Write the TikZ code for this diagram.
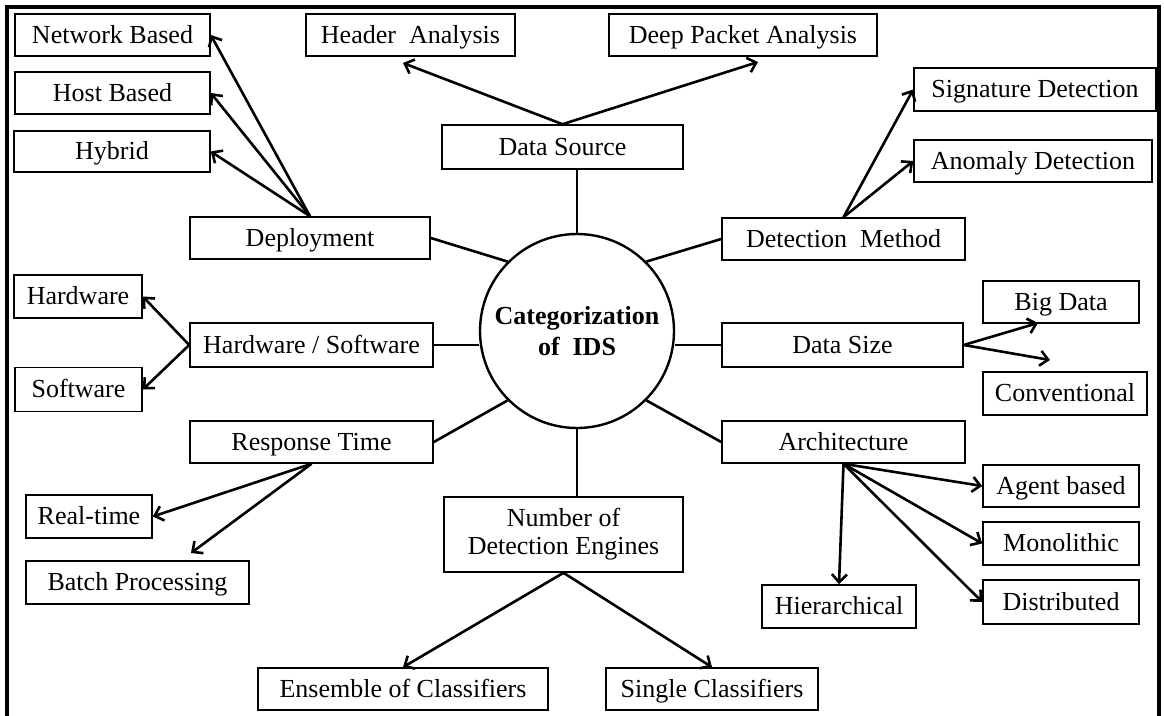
\documentclass[tikz,border=0pt]{standalone}
\usepackage{fontspec}
\setmainfont{Liberation Serif}
\usetikzlibrary{arrows.meta}
\begin{document}
\begin{tikzpicture}[x=1pt,y=-1pt,
  box/.style={draw, line width=1.6pt, inner sep=0pt, align=center, text height=20pt, text depth=4pt, font=\fontsize{26}{29}\selectfont},
  twoline/.style={text height=, text depth=, font=\fontsize{26}{28}\selectfont},
  conn/.style={line width=2.6pt},
  arr/.style={line width=2.6pt, -{Straight Barb[length=8pt,width=15pt]}}]
\useasboundingbox (0,0) rectangle (1164,715);
% frame
\draw[line width=3.2pt] (7,717) -- (7,7) -- (1159,7) -- (1159,717);
% centre
\node[draw, circle, line width=2.4pt, minimum size=194pt, inner sep=0pt, align=center,
      font=\fontsize{26}{31}\selectfont\bfseries] (c) at (577,331) {Categorization\\of\ \ IDS};
% boxes
\node[box, minimum width=195pt, minimum height=42pt] (nb) at (112.5,35) {Network Based};
\node[box, minimum width=195pt, minimum height=42pt] (hb) at (112.5,93) {Host Based};
\node[box, minimum width=196pt, minimum height=41pt] (hy) at (112,151.5) {Hybrid};
\node[box, minimum width=209pt, minimum height=42pt] (ha) at (410.5,35) {Header\ \ Analysis};
\node[box, minimum width=268pt, minimum height=42pt] (dp) at (743,35) {Deep Packet Analysis};
\node[box, minimum width=241pt, minimum height=44pt] (ds) at (562.5,147) {Data Source};
\node[box, minimum width=242pt, minimum height=43pt] (sd) at (1035,89.5) {Signature Detection};
\node[box, minimum width=238pt, minimum height=42pt] (ad) at (1033,161) {Anomaly Detection};
\node[box, minimum width=240pt, minimum height=42pt] (dep) at (310,238) {Deployment};
\node[box, minimum width=243pt, minimum height=42pt] (dm) at (843.5,239) {Detection\ \ Method};
\node[box, minimum width=128pt, minimum height=43pt] (hw) at (78,296.5) {Hardware};
\node[box, minimum width=243pt, minimum height=44pt] (hs) at (311.5,345) {Hardware / Software};
\node[box, minimum width=127pt, minimum height=44pt] (sw) at (78.5,389.5) {Software};
\node[box, minimum width=243pt, minimum height=42pt] (rt) at (311.5,442) {Response Time};
\node[box, minimum width=241pt, minimum height=44pt] (dsz) at (842.5,345) {Data Size};
\node[box, minimum width=156pt, minimum height=42pt] (bd) at (1061,302) {Big Data};
\node[box, minimum width=164pt, minimum height=43pt] (cv) at (1065,393.5) {Conventional};
\node[box, minimum width=243pt, minimum height=42pt] (ar) at (843.5,442) {Architecture};
\node[box, minimum width=156pt, minimum height=42pt] (ab) at (1061,486) {Agent based};
\node[box, minimum width=156pt, minimum height=43pt] (mo) at (1061,543.5) {Monolithic};
\node[box, minimum width=156pt, minimum height=44pt] (di) at (1061,602) {Distributed};
\node[box, minimum width=154pt, minimum height=43pt] (hi) at (839,606.5) {Hierarchical};
\node[box, minimum width=126pt, minimum height=43pt] (rtm) at (89,516.5) {Real-time};
\node[box, minimum width=223pt, minimum height=43pt] (bp) at (137.5,582.5) {Batch Processing};
\node[box, twoline, minimum width=239pt, minimum height=75pt] (nde) at (563.5,534.5) {Number of\\Detection Engines};
\node[box, minimum width=290pt, minimum height=42pt] (ec) at (403,689) {Ensemble of Classifiers};
\node[box, minimum width=212pt, minimum height=42pt] (sc) at (712,689) {Single Classifiers};
% free arrow ends
\coordinate (haT) at (403,63);
\coordinate (dpT) at (758,62);
\coordinate (bpT) at (191,553);
\coordinate (bdT) at (1038,323);
\coordinate (cvT) at (1050,360);
% spokes
\draw[conn] (dep.east) -- (c.135);
\draw[conn] (dm.west) -- (c.45);
\draw[conn] (rt.east) -- (c.225);
\draw[conn] (ar.west) -- (c.-45);
\draw[conn] (hs.east) -- (hs.east -| c.west);
\draw[conn] (dsz.west) -- (dsz.west -| c.east);
\draw[conn] (c.north) -- (c.north |- ds.south);
\draw[conn] (c.south) -- (c.south |- nde.north);
% arrows
\draw[arr] (dep.north) -- (nb.east);
\draw[arr] (dep.north) -- (hb.east);
\draw[arr] (dep.north) -- (hy.east);
\draw[arr] (ds.north) -- (haT);
\draw[arr] (ds.north) -- (dpT);
\draw[arr] (dm.north) -- (sd.west);
\draw[arr] (dm.north) -- (ad.west);
\draw[arr] (hs.west) -- (hw.east);
\draw[arr] (hs.west) -- (sw.east);
\draw[arr] (rt.south) -- (rtm.east);
\draw[arr] (rt.south) -- (bpT);
\draw[arr] (dsz.east) -- (bdT);
\draw[arr] (dsz.east) -- (cvT);
\draw[arr] (ar.south) -- (ab.west);
\draw[arr] (ar.south) -- (mo.west);
\draw[arr] (ar.south) -- (di.west);
\draw[arr] (ar.south) -- (hi.north);
\draw[arr] (nde.south) -- (ec.north);
\draw[arr] (nde.south) -- (sc.north);
\end{tikzpicture}
\end{document}
